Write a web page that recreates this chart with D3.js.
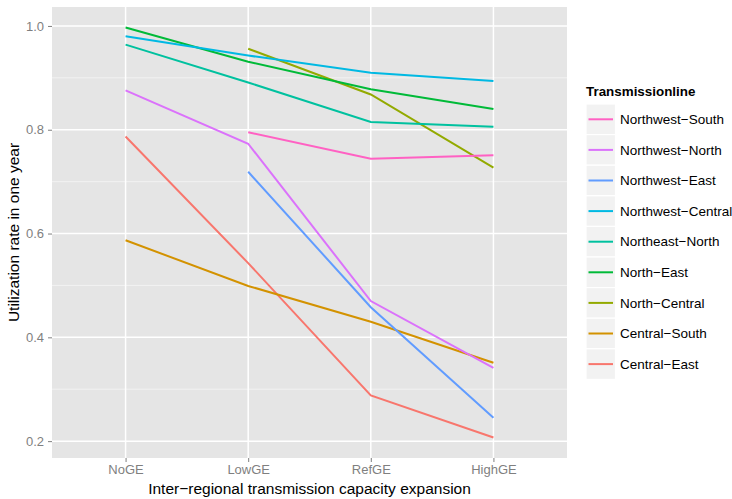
<!DOCTYPE html>
<html><head><meta charset="utf-8">
<script src="https://cdn.jsdelivr.net/npm/d3@7"></script>
<style>body{margin:0;background:#fff;} text{font-family:"Liberation Sans",Arial,Helvetica,sans-serif;}</style>
</head><body>
<script>
const categories = ["NoGE","LowGE","RefGE","HighGE"];
const seriesNames = ["Northwest\u2212South","Northwest\u2212North","Northwest\u2212East","Northwest\u2212Central","Northeast\u2212North","North\u2212East","North\u2212Central","Central\u2212South","Central\u2212East"];
const seriesColors = ["#FF61C3","#DB72FB","#619CFF","#00B9E3","#00C19F","#00BA38","#93AA00","#D39200","#F8766D"];
const northwestSouth   = [null, 0.795, 0.744, 0.751];
const northwestNorth   = [0.876, 0.773, 0.470, 0.341];
const northwestEast    = [null, 0.719, 0.458, 0.245];
const northwestCentral = [0.980, 0.943, 0.910, 0.894];
const northeastNorth   = [0.964, 0.891, 0.815, 0.806];
const northEast        = [0.997, 0.931, 0.878, 0.840];
const northCentral     = [null, 0.956, 0.868, 0.727];
const centralSouth     = [0.587, 0.499, 0.430, 0.351];
const centralEast      = [0.787, 0.543, 0.288, 0.207];
const seriesValues = [northwestSouth,northwestNorth,northwestEast,northwestCentral,northeastNorth,northEast,northCentral,centralSouth,centralEast];
const yTicks = [0.2,0.4,0.6,0.8,1.0];
const yMinor = [0.3,0.5,0.7,0.9];
const xTitle = "Inter\u2212regional transmission capacity expansion";
const yTitle = "Utilization rate in one year";
const legendTitle = "Transmissionline";

const W=732,H=499;
const panel={x0:52,x1:567,y0:7,y1:458};
const svg=d3.select("body").append("svg").attr("width",W).attr("height",H);

const allVals=seriesValues.flat().filter(v=>v!=null);
const mn=d3.min(allVals),mx=d3.max(allVals),pad=(mx-mn)*0.05;
const y=d3.scaleLinear().domain([mn-pad,mx+pad]).range([panel.y1,panel.y0]);
const x=d3.scalePoint().domain(categories).range([panel.x0,panel.x1]).padding(0.6);

svg.append("rect").attr("x",panel.x0).attr("y",panel.y0).attr("width",panel.x1-panel.x0).attr("height",panel.y1-panel.y0).attr("fill","#E5E5E5");
const g=svg.append("g");
g.selectAll(".minor").data(yMinor).join("line").attr("x1",panel.x0).attr("x2",panel.x1).attr("y1",d=>y(d)).attr("y2",d=>y(d)).attr("stroke","#F2F2F2").attr("stroke-width",1);
g.selectAll(".major").data(yTicks).join("line").attr("x1",panel.x0).attr("x2",panel.x1).attr("y1",d=>y(d)).attr("y2",d=>y(d)).attr("stroke","#fff").attr("stroke-width",1.5);
g.selectAll(".vmajor").data(categories).join("line").attr("y1",panel.y0).attr("y2",panel.y1).attr("x1",d=>x(d)).attr("x2",d=>x(d)).attr("stroke","#fff").attr("stroke-width",1.5);

// axes
const yAxis=d3.axisLeft(y).tickValues(yTicks).tickFormat(d3.format(".1f")).tickSize(4).tickPadding(4);
const ya=svg.append("g").attr("transform",`translate(${panel.x0},0)`).call(yAxis);
const xAxis=d3.axisBottom(x).tickSize(4).tickPadding(3);
const xa=svg.append("g").attr("transform",`translate(0,${panel.y1})`).call(xAxis);
[ya,xa].forEach(a=>{a.select(".domain").remove();a.selectAll("line").attr("stroke","#7F7F7F");a.selectAll("text").attr("fill","#7F7F7F").attr("font-size","13px").style("font-family","'Liberation Sans',Arial,sans-serif");});

// lines
const line=d3.line().defined(d=>d.v!=null).x(d=>x(d.c)).y(d=>y(d.v));
const order=[...seriesNames.keys()].reverse();
order.forEach(i=>{
  const pts=categories.map((c,j)=>({c,v:seriesValues[i][j]}));
  svg.append("path").datum(pts).attr("d",line).attr("fill","none").attr("stroke",seriesColors[i]).attr("stroke-width",2);
});

// titles
svg.append("text").attr("x",(panel.x0+panel.x1)/2).attr("y",494).attr("text-anchor","middle").attr("font-size","15.5px").attr("fill","#000").text(xTitle);
svg.append("text").attr("transform",`translate(19,${(panel.y0+panel.y1)/2}) rotate(-90)`).attr("text-anchor","middle").attr("font-size","15.5px").attr("fill","#000").text(yTitle);

// legend
const lg=svg.append("g").attr("transform","translate(586,0)");
lg.append("text").attr("x",0).attr("y",96).attr("font-size","13.4px").attr("font-weight","bold").text(legendTitle);
const rowH=30.6, top0=104;
seriesNames.forEach((n,i)=>{
  const yy=top0+i*rowH;
  lg.append("rect").attr("x",0).attr("y",yy).attr("width",29.5).attr("height",rowH).attr("fill","#F2F2F2").attr("stroke","#fff").attr("stroke-width",1.2);
  lg.append("line").attr("x1",2.5).attr("x2",27).attr("y1",yy+rowH/2).attr("y2",yy+rowH/2).attr("stroke",seriesColors[i]).attr("stroke-width",2);
  lg.append("text").attr("x",34).attr("y",yy+rowH/2).attr("dy","0.35em").attr("font-size","13.5px").text(n);
});
</script>
</body></html>
